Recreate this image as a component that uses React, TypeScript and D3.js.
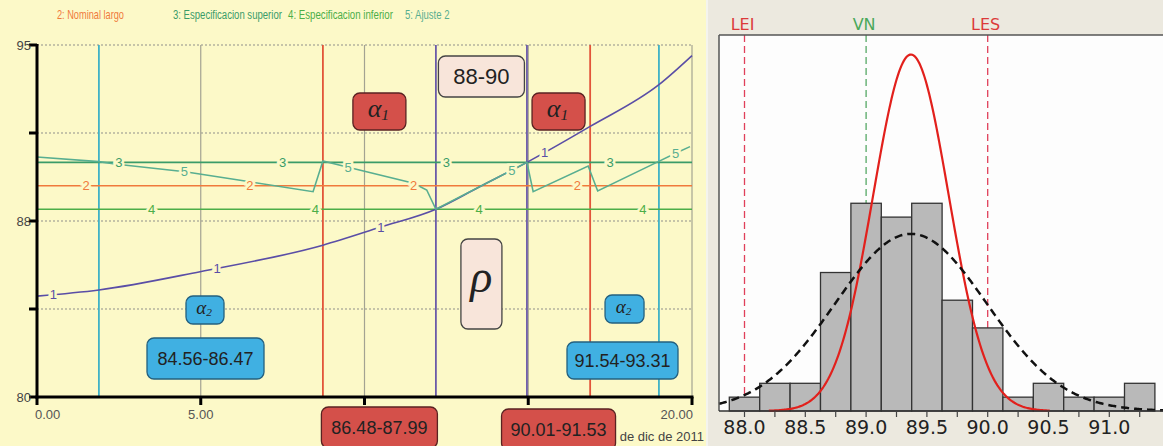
import React from "react";
import * as d3 from "d3";

const W = 1163;
const H = 446;

// ---------- left panel: length over time ----------
const timeTicks = [0, 5, 10, 15, 20];
const lengthTicks = [80, 83.75, 87.5, 91.25, 95];

// 1: measured length trend
const trendTime = [0, 1.89, 4.98, 8.73, 10.47, 12.18, 13.5, 14.96, 16.89, 18.99, 20];
const trendLength = [84.3, 84.56, 85.34, 86.47, 87.23, 88.0, 88.95, 90.0, 91.53, 93.31, 94.55];

// 5: Ajuste 2 (adjusted process)
const adjustTime = [0, 1.89, 2.38, 4.52, 6.5, 8.43, 8.73, 9.5, 11.5, 11.9, 12.18, 14.96, 15.15, 16.83, 17.12, 18.97, 19.48, 19.94];
const adjustLength = [90.23, 90.03, 89.93, 89.6, 89.17, 88.75, 90.06, 89.79, 89.11, 88.82, 88.0, 90.0, 88.75, 89.84, 88.78, 90.03, 90.38, 90.67];

// 2, 3, 4: reference levels
const nominalLength = 89;
const upperSpec = 90;
const lowerSpec = 88;

// times where the trend crosses each band boundary
const boundaryTimes = [1.89, 8.73, 12.18, 14.96, 16.89, 18.99];
const boundaryColors = ["#3fb2c6", "#e2553a", "#6b5ba8", "#6b5ba8", "#e2553a", "#3fb2c6"];

const legendLabels = ["2: Nominal largo", "3: Especificacion superior", "4: Especificacion inferior", "5: Ajuste 2"];
const bandLabels = ["84.56-86.47", "86.48-87.99", "88-90", "90.01-91.53", "91.54-93.31"];
const dateLabel = "1 de dic de 2011";

// ---------- right panel: histogram ----------
const binCenters = [88.0, 88.25, 88.5, 88.75, 89.0, 89.25, 89.5, 89.75, 90.0, 90.25, 90.5, 90.75, 91.0, 91.25];
const binCounts = [1, 2, 2, 10, 15, 14, 15, 8, 6, 1, 2, 1, 1, 2];
const binWidth = 0.25;
const histTicks = [88.0, 88.5, 89.0, 89.5, 90.0, 90.5, 91.0];
const specNames = ["LEI", "VN", "LES"];
const specValues = [88.0, 89.0, 90.0];
const withinSigma = 0.31;

const C = {
  yellow: "#fcf9c8",
  beige: "#ece9df",
  trend: "#5a4ea6",
  nominal: "#f07a3c",
  upper: "#3a9c68",
  lower: "#4cae48",
  adjust: "#58ae90",
  red: "#d4504a",
  blue: "#40b0e2",
  peach: "#f8e5da",
};

const SANS = "'Liberation Sans', Arial, sans-serif";
const SERIF = "'Liberation Serif', 'Times New Roman', serif";
const HSANS = "'DejaVu Sans', Verdana, sans-serif";

// width of a string in a given font, used to squeeze the legend into a condensed look
function measure(text: string, font: string): number {
  const ctx = document.createElement("canvas").getContext("2d");
  if (!ctx) return text.length * 6.5;
  ctx.font = font;
  return ctx.measureText(text).width;
}

type Box = { cx: number; y: number; w: number; h: number; fill: string; stroke: string; kind: "text" | "a1" | "a2" | "rho"; text?: string; size?: number };

function AnnotBox({ b }: { b: Box }) {
  const x = b.cx - b.w / 2;
  const cy = b.y + b.h / 2;
  let content: React.ReactNode = null;
  if (b.kind === "text") {
    content = (
      <text x={b.cx} y={cy} textAnchor="middle" dominantBaseline="central" fontFamily={SANS} fontSize={b.size} fill="#222">
        {b.text}
      </text>
    );
  } else if (b.kind === "a1" || b.kind === "a2") {
    const big = b.kind === "a1" ? 26 : 19;
    content = (
      <text x={b.cx - 1} y={cy + big * 0.22} textAnchor="middle" fontFamily={SERIF} fontStyle="italic" fontSize={big} fill="#222">
        α<tspan fontSize={big * 0.6} dy={big * 0.12}>{b.kind === "a1" ? "1" : "2"}</tspan>
      </text>
    );
  } else {
    content = (
      <text x={b.cx} y={cy + 8} textAnchor="middle" fontFamily={SERIF} fontStyle="italic" fontSize={46} fill="#222">
        ρ
      </text>
    );
  }
  return (
    <g>
      <rect x={x} y={b.y} width={b.w} height={b.h} rx={7} fill={b.fill} stroke={b.stroke} strokeWidth={1.3} />
      {content}
    </g>
  );
}

export default function App() {
  // left panel scales
  const xT = d3.scaleLinear().domain([0, 20]).range([37, 692]);
  const yL = d3.scaleLinear().domain([80, 95]).range([397, 45]);
  const trendAt = d3.scaleLinear().domain(trendTime).range(trendLength);
  const adjustAt = d3.scaleLinear().domain(adjustTime).range(adjustLength);

  const trendPath = d3
    .line<number>()
    .x((_, i) => xT(trendTime[i]))
    .y((d) => yL(d))
    .curve(d3.curveMonotoneX)(trendLength) as string;
  const adjustPath = d3
    .line<number>()
    .x((_, i) => xT(adjustTime[i]))
    .y((d) => yL(d))(adjustLength) as string;

  const [x0, x1] = xT.range();
  const [yBottom, yTop] = yL.range();

  const levelSeries = [
    { id: "2", value: nominalLength, color: C.nominal, offset: 1.5 },
    { id: "3", value: upperSpec, color: C.upper, offset: 2.5 },
    { id: "4", value: lowerSpec, color: C.lower, offset: 3.5 },
  ];
  const labelTimes = (offset: number) => d3.range(offset, 20, 5);

  // right panel scales
  const xH = d3.scaleLinear().domain([88, 91]).range([744.5, 1109.3]);
  const yH = d3.scaleLinear().domain([0, 27.15]).range([411, 35]);
  const n = d3.sum(binCounts);
  const mean = d3.sum(binCenters, (c, i) => c * binCounts[i]) / n;
  const overallSigma = Math.sqrt(d3.sum(binCenters, (c, i) => binCounts[i] * (c - mean) ** 2) / (n - 1));
  const density = (x: number, s: number) => ((n * binWidth) / (s * Math.sqrt(2 * Math.PI))) * Math.exp(-0.5 * ((x - mean) / s) ** 2);
  const curveLine = (s: number) =>
    d3
      .line<number>()
      .x((x) => xH(x))
      .y((x) => yH(density(x, s)));
  const withinPath = curveLine(withinSigma)(d3.range(88.2, 90.52, 0.01)) as string;
  const overallPath = curveLine(overallSigma)(d3.range(87.79, 91.46, 0.01)) as string;
  const plotL = 719;
  const plotT = 35;
  const plotB = 411;

  const midBetween = (a: number, b: number) => (xT(boundaryTimes[a]) + xT(boundaryTimes[b])) / 2;

  const boxes: Box[] = [
    { cx: midBetween(2, 3), y: 56, w: 86, h: 41, fill: C.peach, stroke: "#444", kind: "text", text: bandLabels[2], size: 22 },
    { cx: midBetween(1, 2), y: 93, w: 53, h: 37, fill: C.red, stroke: "#5a2222", kind: "a1" },
    { cx: midBetween(3, 4), y: 93, w: 53, h: 37, fill: C.red, stroke: "#5a2222", kind: "a1" },
    { cx: midBetween(2, 3), y: 239, w: 41, h: 90, fill: C.peach, stroke: "#444", kind: "rho" },
    { cx: 205, y: 296, w: 38, h: 28, fill: C.blue, stroke: "#23607f", kind: "a2" },
    { cx: midBetween(4, 5), y: 295, w: 39, h: 28, fill: C.blue, stroke: "#23607f", kind: "a2" },
    { cx: 205.5, y: 338, w: 117, h: 41, fill: C.blue, stroke: "#23607f", kind: "text", text: bandLabels[0], size: 18 },
    { cx: 622.5, y: 342, w: 111, h: 37, fill: C.blue, stroke: "#23607f", kind: "text", text: bandLabels[4], size: 18 },
    { cx: midBetween(1, 2), y: 407, w: 116, h: 41, fill: C.red, stroke: "#5a2222", kind: "text", text: bandLabels[1], size: 18 },
    { cx: midBetween(3, 4), y: 409, w: 114, h: 41, fill: C.red, stroke: "#5a2222", kind: "text", text: bandLabels[3], size: 18 },
  ];

  const legendX = [57, 173, 288, 405];
  const legendW = [67, 109, 105, 45];
  const legendColors = [C.nominal, C.upper, C.lower, C.adjust];
  const legendFont = 13.5;
  const legendScale = legendLabels.map((t, i) => legendW[i] / measure(t, `${legendFont}px 'Liberation Sans', Arial, sans-serif`));

  const gapStroke = { stroke: C.yellow, strokeWidth: 5, paintOrder: "stroke" as const };
  // the 10 and 15 labels sit under the band boxes, so only the visible ones are drawn
  const shownTimeLabels = [0, 5, 20];

  return (
    <svg width={W} height={H} style={{ position: "absolute", left: 0, top: 0, display: "block" }}>
      {/* backgrounds */}
      <rect x={0} y={0} width={706} height={H} fill={C.yellow} />
      <rect x={706} y={0} width={2} height={H} fill="#f4f4ee" />
      <rect x={708} y={0} width={W - 708} height={H} fill={C.beige} />

      {/* ===== left panel ===== */}
      {legendLabels.map((t, i) => (
        <text key={t} transform={`translate(${legendX[i]},19) scale(${legendScale[i]},1)`} fontFamily={SANS} fontSize={legendFont} fill={legendColors[i]}>
          {t}
        </text>
      ))}

      {/* grid */}
      {lengthTicks.slice(1).map((v) => (
        <line key={v} x1={x0} x2={x1} y1={yL(v)} y2={yL(v)} stroke="#8f8f8a" strokeWidth={1} strokeDasharray="2 2" />
      ))}
      {timeTicks.slice(1).map((t) => (
        <line key={t} x1={xT(t)} x2={xT(t)} y1={yTop} y2={yBottom} stroke="#a3a392" strokeWidth={1.2} />
      ))}

      {/* band boundaries */}
      {boundaryTimes.map((t, i) => (
        <line key={i} x1={xT(t)} x2={xT(t)} y1={yTop} y2={yBottom} stroke={boundaryColors[i]} strokeWidth={1.8} />
      ))}

      {/* reference levels */}
      {levelSeries.map((s) => (
        <line key={s.id} x1={x0} x2={x1} y1={yL(s.value)} y2={yL(s.value)} stroke={s.color} strokeWidth={1.6} />
      ))}

      {/* trend and adjustment */}
      <path d={trendPath} fill="none" stroke={C.trend} strokeWidth={1.6} />
      <path d={adjustPath} fill="none" stroke={C.adjust} strokeWidth={1.6} />

      {/* series labels */}
      {levelSeries.map((s) =>
        labelTimes(s.offset).map((t) => (
          <text key={s.id + t} x={xT(t)} y={yL(s.value)} textAnchor="middle" dominantBaseline="central" fontFamily={SANS} fontSize={13} fill={s.color} {...gapStroke}>
            {s.id}
          </text>
        ))
      )}
      {labelTimes(0.5).map((t) => (
        <text key={"1" + t} x={xT(t)} y={yL(trendAt(t))} textAnchor="middle" dominantBaseline="central" fontFamily={SANS} fontSize={13} fill={C.trend} {...gapStroke}>
          1
        </text>
      ))}
      {labelTimes(4.5).map((t) => (
        <text key={"5" + t} x={xT(t)} y={yL(adjustAt(t))} textAnchor="middle" dominantBaseline="central" fontFamily={SANS} fontSize={13} fill={C.adjust} {...gapStroke}>
          5
        </text>
      ))}

      {/* axes */}
      <line x1={x0} x2={x0} y1={yTop - 1} y2={yBottom + 1.5} stroke="#000" strokeWidth={3} />
      <line x1={x0 - 1.5} x2={x1 + 1.5} y1={yBottom} y2={yBottom} stroke="#000" strokeWidth={3} />
      {lengthTicks.map((v, i) => (
        <g key={v}>
          <line x1={x0 - 8} x2={x0} y1={yL(v)} y2={yL(v)} stroke="#000" strokeWidth={3} />
          {i % 2 === 0 && (
            <text x={x0 - 6} y={yL(v)} textAnchor="end" dominantBaseline="central" fontFamily={SANS} fontSize={13} fill="#444">
              {d3.format(".0f")(v)}
            </text>
          )}
        </g>
      ))}
      {timeTicks.map((t, i) => (
        <g key={t}>
          <line x1={xT(t)} x2={xT(t)} y1={yBottom} y2={yBottom + 8} stroke="#000" strokeWidth={3} />
          {shownTimeLabels.includes(t) && (
            <text
              x={i === 0 ? xT(t) - 2 : i === timeTicks.length - 1 ? xT(t) + 1 : xT(t)}
              y={419}
              textAnchor={i === 0 ? "start" : i === timeTicks.length - 1 ? "end" : "middle"}
              fontFamily={SANS}
              fontSize={13}
              fill="#555"
            >
              {d3.format(".2f")(t)}
            </text>
          )}
        </g>
      ))}
      <text x={704} y={441} textAnchor="end" fontFamily={SANS} fontSize={13} fill="#444">
        {dateLabel}
      </text>

      {/* annotation boxes */}
      {boxes.map((b, i) => (
        <AnnotBox key={i} b={b} />
      ))}

      {/* ===== right panel ===== */}
      <rect x={plotL} y={plotT} width={W - plotL} height={plotB - plotT} fill="#fdfdfd" />
      {specValues.map((v, i) => (
        <g key={specNames[i]}>
          <line x1={xH(v)} x2={xH(v)} y1={plotT} y2={plotB} stroke={i === 1 ? "#55a865" : "#e0405a"} strokeWidth={1.3} strokeDasharray="7 4" />
          <text x={xH(v) - 2} y={30} textAnchor="middle" fontFamily={HSANS} fontSize={16} fill={i === 1 ? "#4aa85a" : "#dc3a3a"}>
            {specNames[i]}
          </text>
        </g>
      ))}
      {binCenters.map((c, i) => (
        <rect
          key={c}
          x={xH(c - binWidth / 2)}
          y={yH(binCounts[i])}
          width={xH(c + binWidth / 2) - xH(c - binWidth / 2)}
          height={yH(0) - yH(binCounts[i])}
          fill="#b9b9b9"
          stroke="#333"
          strokeWidth={1.3}
        />
      ))}
      <path d={withinPath} fill="none" stroke="#e2201c" strokeWidth={2.2} />
      <path d={overallPath} fill="none" stroke="#111" strokeWidth={2.5} strokeDasharray="8 5" />
      <line x1={plotL} x2={W} y1={plotT} y2={plotT} stroke="#555" strokeWidth={1.5} />
      <line x1={plotL} x2={plotL} y1={plotT} y2={plotB} stroke="#555" strokeWidth={1.5} />
      <line x1={plotL} x2={W} y1={plotB} y2={plotB} stroke="#333" strokeWidth={1.5} />
      {binCenters.map((c) => (
        <line key={"t" + c} x1={xH(c)} x2={xH(c)} y1={plotB} y2={plotB + 6} stroke="#444" strokeWidth={1.2} />
      ))}
      {histTicks.map((v) => (
        <text key={"l" + v} x={xH(v)} y={434} textAnchor="middle" fontFamily={HSANS} fontSize={19} fill="#222">
          {d3.format(".1f")(v)}
        </text>
      ))}
    </svg>
  );
}
